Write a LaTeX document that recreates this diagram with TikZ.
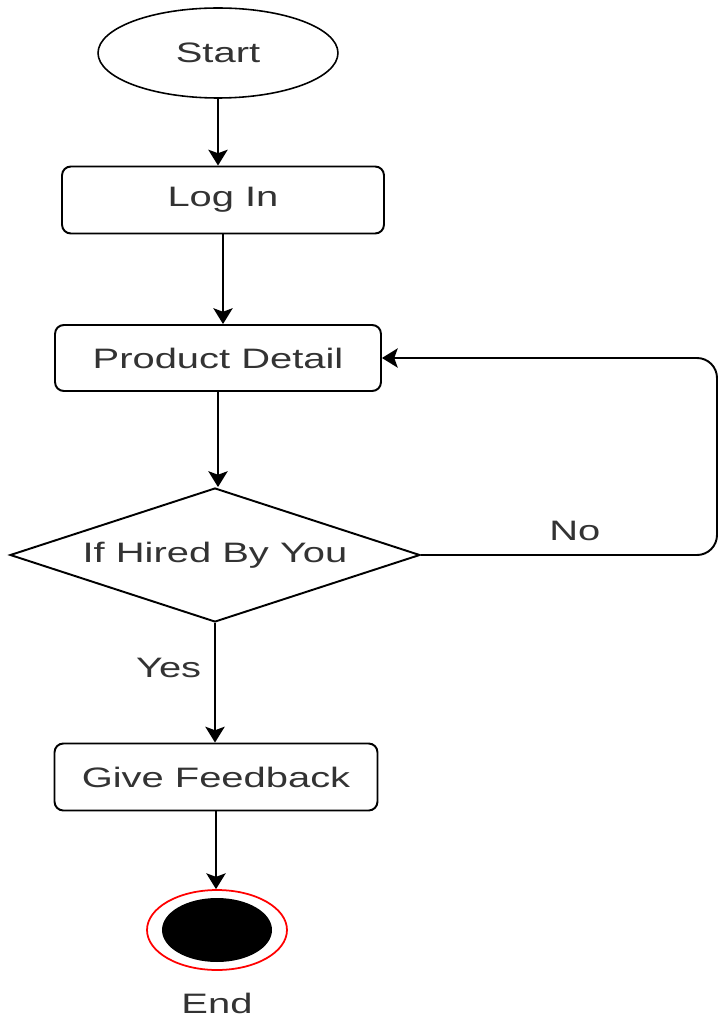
\documentclass[tikz,border=0pt]{standalone}
\usepackage{fontspec}
\setmainfont{Liberation Sans}
\usepackage{graphicx}
\usetikzlibrary{shapes.geometric,arrows.meta}

\newcommand{\wtxt}[1]{\scalebox{1.42}[1]{#1}}

\tikzset{
    terminal/.style={draw, ellipse, line width=0.9pt, inner sep=0pt, minimum width=4.8cm, minimum height=1.8cm},
    process/.style={draw, rectangle, rounded corners=5pt, line width=1.1pt, inner sep=0pt, minimum height=1.34cm},
    decision/.style={draw, diamond, aspect=3.06, line width=1.1pt, inner sep=0pt, minimum width=8.2cm, minimum height=2.68cm},
    stopnode/.style={draw=red, ellipse, line width=1pt, fill=white, inner sep=0pt, minimum width=2.8cm, minimum height=1.6cm},
    arr/.style={line width=1.1pt, -{Stealth[width=11pt,length=9pt,inset=2pt]}},
    lbl/.style={text=black!80, font=\fontsize{16}{19}\selectfont}
}

\begin{document}
\begin{tikzpicture}[x=0.02cm, y=-0.02cm, every node/.style={lbl}]
    \useasboundingbox (0,0) rectangle (719,1020);

    % Flow steps
    \node[terminal] (start) at (218,53) {\wtxt{Start}};
    \node[process, minimum width=6.44cm] (login) at (223,200) {\wtxt{Log In}};
    \node[process, minimum width=6.52cm, minimum height=1.32cm] (detail) at (218,358) {\wtxt{Product Detail}};
    \node[decision] (hired) at (215,555) {\wtxt{If Hired By You}};
    \node[process, minimum width=6.46cm] (feedback) at (216,777) {\wtxt{Give Feedback}};

    % End state
    \node[stopnode, path picture={\fill[black] (path picture bounding box.center) ellipse [x radius=1.1cm, y radius=0.64cm];}] (stop) at (217,930) {};
    \node (stoplbl) at (217,1003) {\wtxt{End}};

    % Loop back corner
    \coordinate (loopc) at (717,358);

    % Connections
    \draw[arr] (start.south) -- (start.south |- login.north);
    \draw[arr] (login.south) -- (login.south |- detail.north);
    \draw[arr] (detail.south) -- (detail.south |- hired.north);
    \draw[arr] (hired.south) -- node[left, pos=0.38, xshift=-4pt] {\wtxt{Yes}} (hired.south |- feedback.north);
    \draw[arr] (feedback.south) -- (feedback.south |- stop.north);
    \draw[arr, rounded corners=0.4cm] (hired.east) -| node[above, pos=0.26, yshift=4pt] {\wtxt{No}} (loopc) -- (detail.east);

\end{tikzpicture}
\end{document}
